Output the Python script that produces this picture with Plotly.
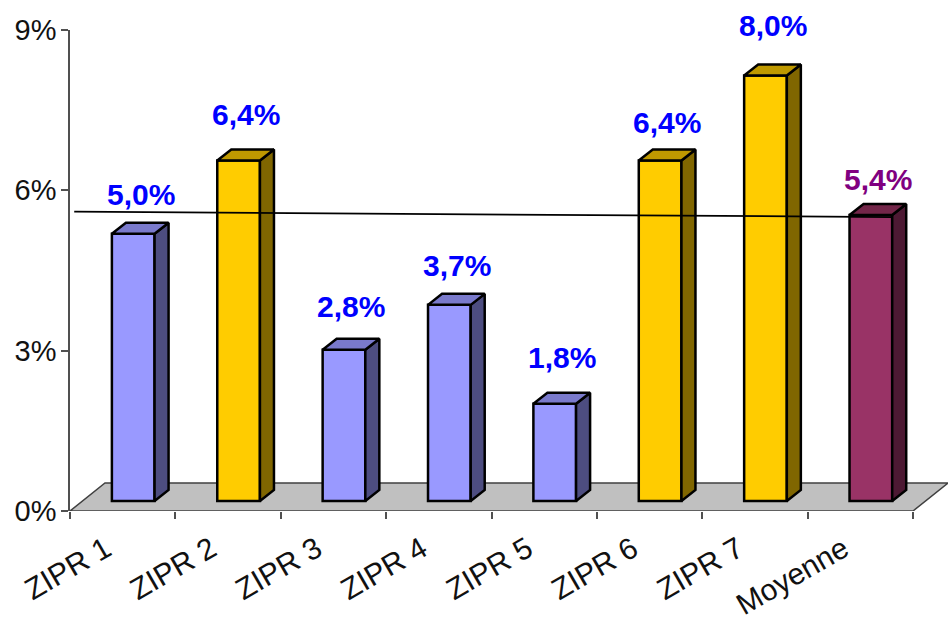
import plotly.graph_objects as go

# ------------------------------------------------------------
# data
# ------------------------------------------------------------
categories = ['ZIPR 1', 'ZIPR 2', 'ZIPR 3', 'ZIPR 4', 'ZIPR 5', 'ZIPR 6', 'ZIPR 7', 'Moyenne']
values = [5.0, 6.37, 2.83, 3.67, 1.82, 6.37, 7.96, 5.35]
labels = ['5,0%', '6,4%', '2,8%', '3,7%', '1,8%', '6,4%', '8,0%', '5,4%']
label_heights = [5.93, 7.41, 3.82, 4.60, 2.88, 7.26, 9.09, 6.21]
trend_x = [0.04, 7.8]
trend_y = [5.6, 5.5]

y_ticks = [0, 3, 6, 9]
y_tick_text = ['0%', '3%', '6%', '9%']

front_colors = ['#9999FF', '#FFCC00', '#9999FF', '#9999FF', '#9999FF', '#FFCC00', '#FFCC00', '#993366']
side_colors = ['#4D4D80', '#806600', '#4D4D80', '#4D4D80', '#4D4D80', '#806600', '#806600', '#4D1933']
top_colors = ['#7A7ACC', '#BF9900', '#7A7ACC', '#7A7ACC', '#7A7ACC', '#BF9900', '#BF9900', '#732649']
label_colors = ['#0000FF'] * 7 + ['#800080']

# fake 3D: how far the floor and the bars are pushed back
floor_dx, floor_dy = 0.332, 0.524
base_dx, base_dy = 0.10, 0.187
depth_dx, depth_dy = 0.133, 0.206
bar_width = 0.405
y_max = 9

FONT = 'Liberation Sans, Arial, sans-serif'
n = len(categories)
centers = [i + 0.5 + base_dx for i in range(n)]

fig = go.Figure()

# front faces
fig.add_trace(go.Bar(
    x=centers, y=values, base=[base_dy] * n, width=bar_width,
    marker=dict(color=front_colors, line=dict(color='black', width=2.5)),
    hoverinfo='skip'
))

# side and top faces
for i in range(n):
    x0 = centers[i] - bar_width / 2
    x1 = centers[i] + bar_width / 2
    y0 = base_dy
    y1 = base_dy + values[i]
    fig.add_trace(go.Scatter(
        x=[x1, x1 + depth_dx, x1 + depth_dx, x1, x1],
        y=[y0, y0 + depth_dy, y1 + depth_dy, y1, y0],
        mode='lines', fill='toself', fillcolor=side_colors[i],
        line=dict(color='black', width=2.5), hoverinfo='skip'
    ))
    fig.add_trace(go.Scatter(
        x=[x0, x0 + depth_dx, x1 + depth_dx, x1, x0],
        y=[y1, y1 + depth_dy, y1 + depth_dy, y1, y1],
        mode='lines', fill='toself', fillcolor=top_colors[i],
        line=dict(color='black', width=2.5), hoverinfo='skip'
    ))

# trend line over the bars
fig.add_trace(go.Scatter(
    x=trend_x, y=trend_y, mode='lines',
    line=dict(color='black', width=1.8), hoverinfo='skip'
))

# value labels: paper y because 8,0% sits above the axis range and plotly hides it otherwise
for i in range(n):
    fig.add_annotation(
        x=i + 0.67, xref='x', y=label_heights[i] / y_max, yref='paper',
        text=f'<b>{labels[i]}</b>', showarrow=False,
        xanchor='center', yanchor='middle',
        font=dict(family=FONT, size=30, color=label_colors[i])
    )

# grey floor, behind the bars
fig.add_shape(
    type='path',
    path=f'M 0 0 L {n} 0 L {n + floor_dx} {floor_dy} L {floor_dx} {floor_dy} Z',
    xref='x', yref='y', layer='below',
    fillcolor='#C0C0C0', line=dict(color='#404040', width=1.5)
)

fig.update_layout(
    width=951, height=620,
    autosize=False,
    margin=dict(l=70, r=3, t=30, b=109),
    paper_bgcolor='white', plot_bgcolor='white',
    showlegend=False,
    xaxis=dict(
        range=[0, n + floor_dx], showgrid=False, zeroline=False, showline=False,
        automargin=False,
        tickmode='array', tickvals=[i + 0.34 for i in range(n)], ticktext=categories,
        ticks='', tickangle=-30, ticklabelstandoff=14,
        tickfont=dict(family=FONT, size=30, color='#111111'),
        minor=dict(tickmode='array', tickvals=list(range(n + 1)), ticks='outside',
                   ticklen=7, tickwidth=1.5, tickcolor='#505050', showgrid=False),
    ),
    yaxis=dict(
        range=[0, y_max], showgrid=False, zeroline=False, showline=True,
        automargin=False,
        linecolor='#505050', linewidth=1.5,
        tickmode='array', tickvals=y_ticks, ticktext=y_tick_text,
        ticks='outside', ticklen=7, tickwidth=1.5, tickcolor='#505050',
        ticklabelstandoff=-1,
        tickfont=dict(family=FONT, size=29, color='#111111'),
    ),
)

# drop the default page margin so the figure fills the window
fig.write_html('out.html', config={'displayModeBar': False},
               post_script="document.body.style.margin = '0';")
